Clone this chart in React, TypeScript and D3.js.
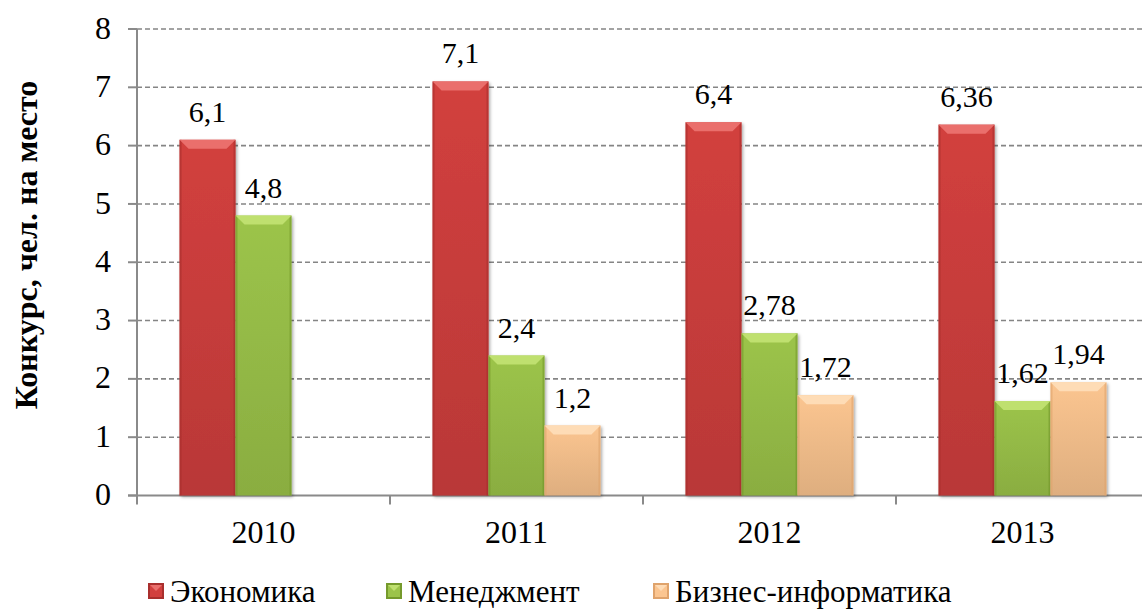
import React, { Component, createRef } from 'react';
import * as d3 from 'd3';

const years = ['2010', '2011', '2012', '2013'];
const seriesNames = ['Экономика', 'Менеджмент', 'Бизнес-информатика'];
const economics = [6.1, 7.1, 6.4, 6.36];
const management = [4.8, 2.4, 2.78, 1.62];
const businessInf = [null, 1.2, 1.72, 1.94];
const yTicks = [0, 1, 2, 3, 4, 5, 6, 7, 8];

// main, top bevel, edge
const palette = [
    { main: '#d2403e', light: '#ea6f6c', dark: '#a92f2d' },
    { main: '#9cc44a', light: '#bfe06f', dark: '#759a2c' },
    { main: '#fbc590', light: '#fedcb6', dark: '#dfa36c' },
];

const W = 1142;
const H = 610;
const FONT = 'Liberation Serif';

export default class App extends Component {
    svgRef = createRef<SVGSVGElement>();

    componentDidMount() {
        this.drawChart();
    }

    drawChart() {
        const svg = d3.select(this.svgRef.current);
        svg.selectAll('*').remove();

        const left = 137, right = 1149, top = 29, bottom = 495.5;

        const x0 = d3.scaleBand().domain(years).range([left, right]);
        const x1 = d3.scaleBand().domain(seriesNames)
            .range([0, x0.bandwidth()])
            .paddingOuter(0.76);
        const y = d3.scaleLinear().domain([0, 8]).range([bottom, top]);

        const fmt = (v: number) => String(v).replace('.', ',');

        const defs = svg.append('defs');
        palette.forEach((p, i) => {
            const g = defs.append('linearGradient')
                .attr('id', 'grad' + i)
                .attr('x1', 0).attr('x2', 0).attr('y1', 0).attr('y2', 1);
            g.append('stop').attr('offset', '0%').attr('stop-color', p.main);
            g.append('stop').attr('offset', '100%').attr('stop-color', d3.color(p.main)!.darker(0.35).toString());
        });
        const f = defs.append('filter').attr('id', 'shadow')
            .attr('x', '-10%').attr('y', '-10%').attr('width', '130%').attr('height', '130%');
        f.append('feDropShadow').attr('dx', 1.5).attr('dy', 1.5)
            .attr('stdDeviation', 1.5).attr('flood-color', '#000').attr('flood-opacity', 0.35);

        // grid
        svg.append('g').selectAll('line')
            .data(yTicks.filter(t => t > 0))
            .enter().append('line')
            .attr('x1', left).attr('x2', W)
            .attr('y1', d => y(d)).attr('y2', d => y(d))
            .attr('stroke', '#858585').attr('stroke-width', 1.6)
            .attr('stroke-dasharray', '5,3');

        // y axis
        svg.append('line')
            .attr('x1', left).attr('x2', left)
            .attr('y1', y(8)).attr('y2', y(0))
            .attr('stroke', '#8a8a8a').attr('stroke-width', 2);
        svg.append('g').selectAll('line')
            .data(yTicks)
            .enter().append('line')
            .attr('x1', left - 9).attr('x2', left)
            .attr('y1', d => y(d)).attr('y2', d => y(d))
            .attr('stroke', '#8a8a8a').attr('stroke-width', 2);
        svg.append('g').selectAll('text')
            .data(yTicks)
            .enter().append('text')
            .attr('x', 111).attr('y', d => y(d))
            .attr('dy', '0.3em')
            .attr('text-anchor', 'end')
            .style('font-family', FONT).style('font-size', '32px')
            .text(d => d);

        // x axis
        svg.append('line')
            .attr('x1', left - 9).attr('x2', W)
            .attr('y1', bottom).attr('y2', bottom)
            .attr('stroke', '#8a8a8a').attr('stroke-width', 2);
        svg.append('g').selectAll('line')
            .data(years)
            .enter().append('line')
            .attr('x1', d => x0(d)!).attr('x2', d => x0(d)!)
            .attr('y1', bottom).attr('y2', bottom + 9)
            .attr('stroke', '#8a8a8a').attr('stroke-width', 2);
        svg.append('g').selectAll('text')
            .data(years)
            .enter().append('text')
            .attr('x', d => x0(d)! + x0.bandwidth() / 2)
            .attr('y', 543)
            .attr('text-anchor', 'middle')
            .style('font-family', FONT).style('font-size', '32px')
            .text(d => d);

        // bars
        const allSeries = [economics, management, businessInf];
        const rows: { year: string; s: number; v: number }[] = [];
        years.forEach((yr, i) => {
            allSeries.forEach((vals, s) => {
                const v = vals[i];
                if (v != null) rows.push({ year: yr, s, v });
            });
        });

        const bw = x1.bandwidth();
        const bev = 9;
        const bar = svg.append('g').selectAll('g')
            .data(rows)
            .enter().append('g')
            .attr('transform', d => `translate(${x0(d.year)! + x1(seriesNames[d.s])!},${y(d.v)})`);

        bar.append('rect')
            .attr('width', bw)
            .attr('height', d => y(0) - y(d.v))
            .attr('fill', d => `url(#grad${d.s})`)
            .attr('filter', 'url(#shadow)');
        bar.append('rect')
            .attr('width', 2).attr('height', d => y(0) - y(d.v))
            .attr('fill', d => palette[d.s].dark).attr('opacity', 0.6);
        bar.append('rect')
            .attr('x', bw - 2).attr('width', 2).attr('height', d => y(0) - y(d.v))
            .attr('fill', d => palette[d.s].dark).attr('opacity', 0.6);
        // top bevel
        bar.append('path')
            .attr('d', `M0,0 L${bw},0 L${bw - bev},${bev} L${bev},${bev} Z`)
            .attr('fill', d => palette[d.s].light);

        // value labels
        svg.append('g').selectAll('text')
            .data(rows)
            .enter().append('text')
            .attr('x', d => x0(d.year)! + x1(seriesNames[d.s])! + bw / 2)
            .attr('y', d => y(d.v) - 18)
            .attr('text-anchor', 'middle')
            .style('font-family', FONT).style('font-size', '30px')
            .text(d => fmt(d.v));

        // y title
        svg.append('text')
            .attr('transform', 'translate(37,245) rotate(-90)')
            .attr('text-anchor', 'middle')
            .style('font-family', FONT).style('font-size', '32px')
            .style('font-weight', 'bold')
            .text('Конкурс, чел. на место');

        // legend
        const legendX = [148, 386, 653];
        const leg = svg.append('g').selectAll('g')
            .data(seriesNames)
            .enter().append('g')
            .attr('transform', (d, i) => `translate(${legendX[i]},583)`);
        leg.append('rect')
            .attr('width', 16).attr('height', 16)
            .attr('fill', (d, i) => palette[i].dark);
        leg.append('rect')
            .attr('x', 2).attr('y', 2).attr('width', 12).attr('height', 12)
            .attr('fill', (d, i) => palette[i].main);
        leg.append('path')
            .attr('d', 'M2,2 L14,2 L8,8 Z')
            .attr('fill', (d, i) => palette[i].light);
        leg.append('text')
            .attr('x', 22).attr('y', 19)
            .style('font-family', FONT).style('font-size', '31px')
            .text(d => d);
    }

    render() {
        return (
            <svg ref={this.svgRef} width={W} height={H}
                style={{ position: 'fixed', left: 0, top: 0, background: '#fff' }}>
            </svg>
        );
    }
}
